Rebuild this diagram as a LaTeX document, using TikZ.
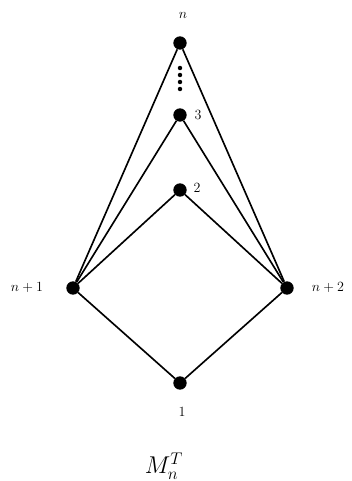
\documentclass[tikz,border=0pt]{standalone}
\usetikzlibrary{positioning}

\begin{document}
\begin{tikzpicture}[
    x=0.03cm, y=-0.03cm,
    vtx/.style={circle,fill=black,inner sep=0pt,minimum size=0.4cm},
    edge/.style={line width=1.4pt},
    lbl/.style={font=\fontsize{12}{14}\selectfont,inner sep=1pt}
]
  \useasboundingbox (0,0) rectangle (351,481);

  % Vertices of the lattice
  \node[vtx] (vn) at (180,43) {};
  \node[vtx] (v3) at (180,115) {};
  \node[vtx] (v2) at (180,190) {};
  \node[vtx] (va) at (73,288) {};
  \node[vtx] (vb) at (287,288) {};
  \node[vtx] (v1) at (180,383) {};

  % Dots between n and 3
  \foreach \y in {68,75,82,89}
    \fill (180,\y) circle (1.9pt);

  % Edges
  \foreach \t in {vn,v3,v2,v1}
    \draw[edge] (va) -- (\t) -- (vb);

  % Labels
  \node[lbl] (ln) at (183,15) {$n$};
  \node[lbl] (l3) at (198,115) {$3$};
  \node[lbl] (l2) at (197,188) {$2$};
  \node[lbl] (la) at (27,288) {$n+1$};
  \node[lbl] (lb) at (328,288) {$n+2$};
  \node[lbl] (l1) at (182,412) {$1$};

  % Caption
  \node[font=\fontsize{20}{24}\selectfont] (cap) at (164,466) {$M_n^T$};
\end{tikzpicture}
\end{document}
